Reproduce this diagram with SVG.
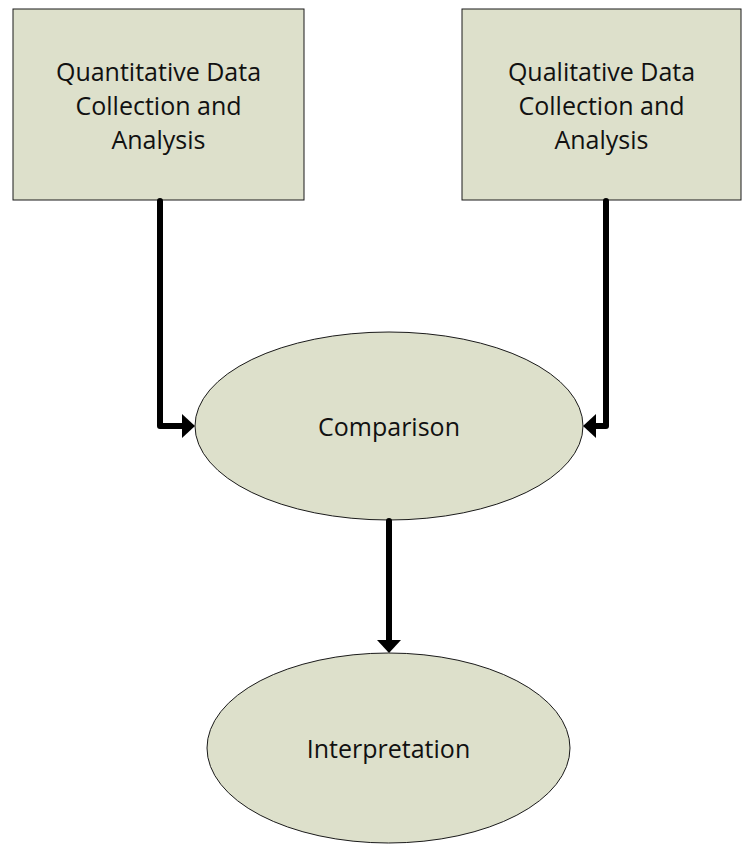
<svg xmlns="http://www.w3.org/2000/svg" width="743" height="844" viewBox="0 0 743 844">
  <defs>
    <style>
      .node { fill: #dde0cb; stroke: #1a1a1a; stroke-width: 1; }
      .label { font-family: "Open Sans", "Liberation Sans", sans-serif; font-size: 25px; fill: #111111; text-anchor: middle; }
      .wire { fill: none; stroke: #000000; stroke-width: 6; stroke-linejoin: round; stroke-linecap: round; }
      .head { fill: #000000; }
    </style>
  </defs>
  <rect width="743" height="844" fill="#ffffff"/>

  <g id="quantitative">
    <rect class="node" x="13" y="9" width="291" height="191"/>
    <text class="label" x="158.5" y="81">Quantitative Data</text>
    <text class="label" x="158.5" y="115">Collection and</text>
    <text class="label" x="158.5" y="149">Analysis</text>
  </g>

  <g id="qualitative">
    <rect class="node" x="462" y="9" width="279" height="191"/>
    <text class="label" x="601.5" y="81">Qualitative Data</text>
    <text class="label" x="601.5" y="115">Collection and</text>
    <text class="label" x="601.5" y="149">Analysis</text>
  </g>

  <g id="comparison">
    <ellipse class="node" cx="389" cy="426" rx="194" ry="94"/>
    <text class="label" x="389" y="436">Comparison</text>
  </g>

  <g id="interpretation">
    <ellipse class="node" cx="388.5" cy="748" rx="181.5" ry="95"/>
    <text class="label" x="388.5" y="758">Interpretation</text>
  </g>

  <g id="connectors">
    <path class="wire" d="M160,201 L160,426 L183,426"/>
    <polygon class="head" points="195,426 182,414 182,438"/>
    <path class="wire" d="M606,201 L606,426 L595,426"/>
    <polygon class="head" points="583,426 596,414 596,438"/>
    <path class="wire" d="M389,521 L389,641"/>
    <polygon class="head" points="389,653 377,640 401,640"/>
  </g>
</svg>
